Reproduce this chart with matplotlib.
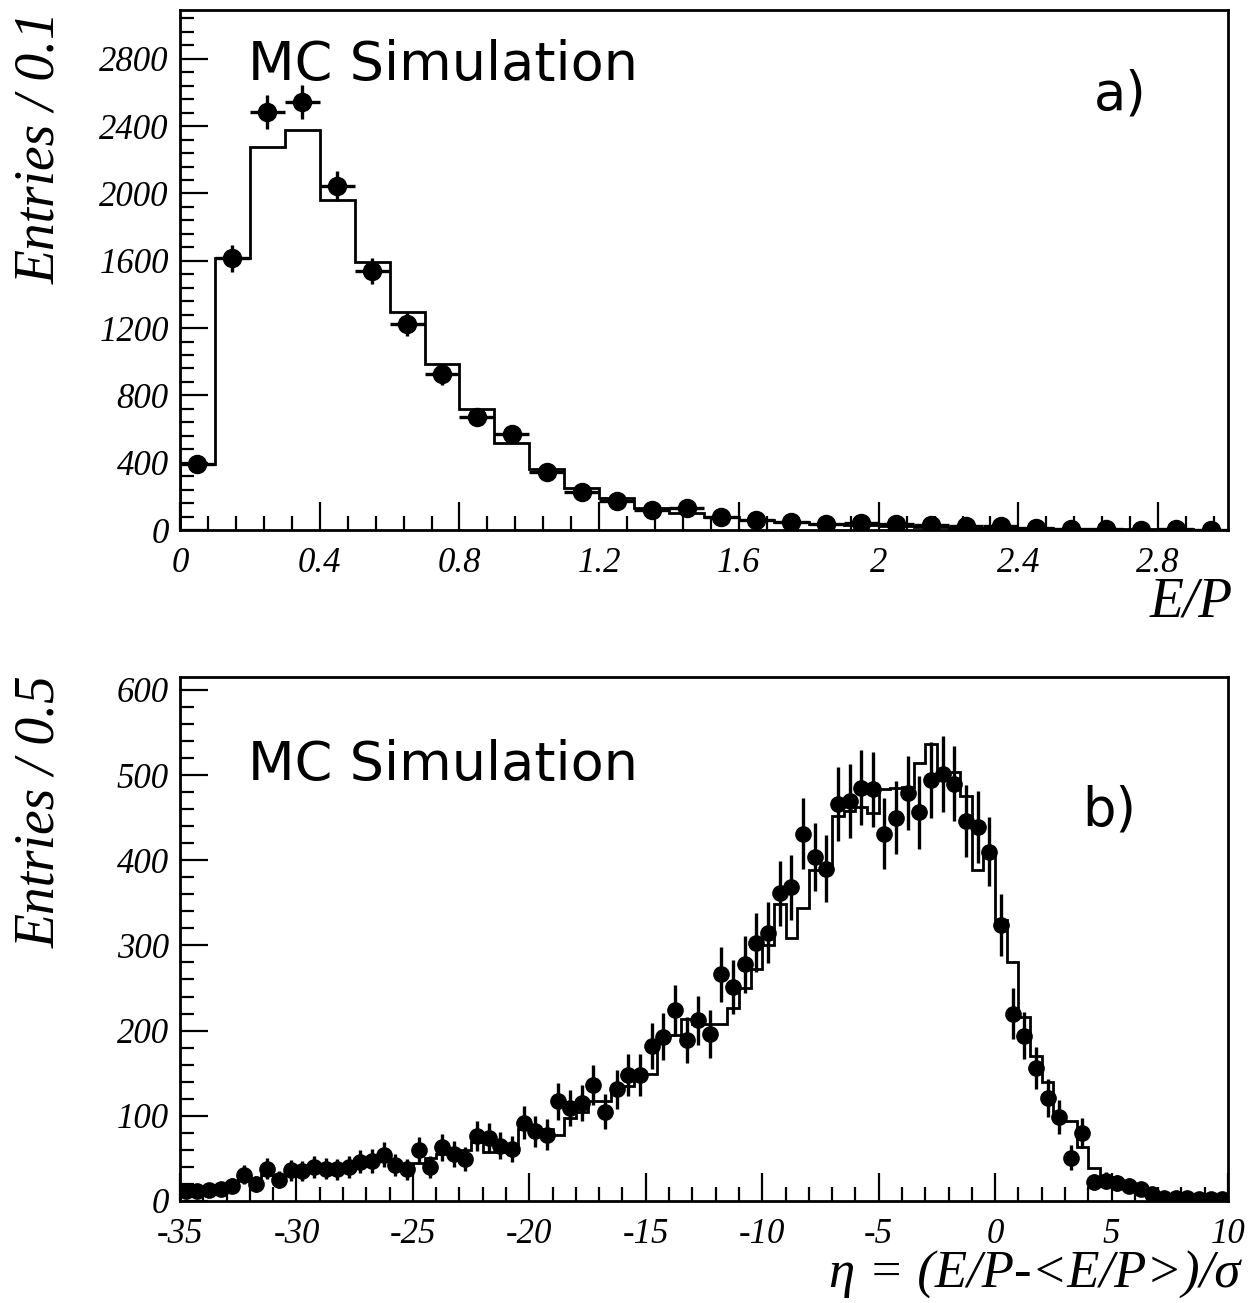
import numpy as np
import matplotlib
matplotlib.use("Agg")
import matplotlib.pyplot as plt

# ---- panel a: E/P, bins of 0.1 from 0 to 3
ep_edges = np.linspace(0.0, 3.0, 31)
ep_data = [395, 1615, 2485, 2545, 2045, 1540, 1225, 925, 670, 570,
           345, 225, 175, 120, 130, 75, 62, 48, 38, 42,
           36, 30, 22, 25, 12, 8, 5, 3, 4, 3]
ep_mc = [395, 1615, 2275, 2375, 1960, 1595, 1295, 985, 720, 520,
         365, 250, 190, 130, 100, 80, 60, 45, 38, 32,
         25, 20, 15, 12, 10, 8, 6, 5, 4, 3]

# ---- panel b: eta, bins of 0.5 from -35 to 10
eta_edges = np.linspace(-35.0, 10.0, 91)
eta_data = [12, 12, 13, 14, 18, 31, 20, 38, 25, 36,
            35, 40, 38, 37, 40, 46, 47, 54, 42, 37,
            60, 40, 63, 55, 49, 76, 74, 65, 61, 92,
            82, 78, 117, 109, 115, 136, 105, 131, 148, 148,
            182, 193, 224, 189, 212, 196, 266, 251, 278, 303,
            315, 361, 368, 431, 404, 390, 466, 470, 485, 483,
            431, 450, 479, 456, 494, 501, 490, 446, 439, 410,
            324, 220, 194, 156, 121, 99, 51, 80, 22, 24,
            21, 18, 14, 8, 4, 3, 3, 2, 2, 2]
eta_mc = [10, 11, 12, 14, 20, 25, 27, 30, 30, 32,
          34, 35, 36, 37, 38, 42, 45, 48, 45, 42,
          44, 50, 55, 58, 60, 69, 58, 57, 57, 84,
          85, 84, 78, 97, 105, 117, 117, 128, 135, 149,
          149, 195, 195, 214, 208, 208, 208, 227, 250, 272,
          300, 349, 309, 344, 388, 390, 452, 458, 462, 455,
          483, 485, 486, 514, 536, 504, 504, 475, 388, 411,
          330, 280, 216, 170, 140, 96, 94, 63, 39, 28,
          24, 20, 14, 9, 5, 4, 3, 3, 2, 2]

plt.rcParams['font.family'] = ['Liberation Serif', 'DejaVu Serif']
plt.rcParams['font.style'] = 'italic'
plt.rcParams['axes.unicode_minus'] = False

fig = plt.figure(figsize=(12.49, 13.03), dpi=100)
ax1 = fig.add_axes([0.1441, 0.5932, 0.8391, 0.3991])
ax2 = fig.add_axes([0.1441, 0.0783, 0.8391, 0.4021])


def draw_panel(ax, edges, data, mc, ms):
    centers = 0.5 * (edges[1:] + edges[:-1])
    half = 0.5 * (edges[1] - edges[0])
    data = np.array(data, dtype=float)
    # error bars ~ 2 sigma statistical
    err = 2.0 * np.sqrt(data)
    ax.stairs(mc, edges, color='black', lw=2.0, zorder=2)
    ax.errorbar(centers, data, yerr=err, xerr=half, fmt='o', color='black',
                ms=ms, elinewidth=2.4, capsize=0, zorder=3)
    for s in ['top', 'right', 'left', 'bottom']:
        ax.spines[s].set_linewidth(2.0)
    ax.tick_params(which='both', direction='in', top=False, right=False,
                   width=1.6, labelsize=25)
    ax.tick_params(which='major', length=20)
    ax.tick_params(which='minor', length=10)
    ax.tick_params(axis='x', pad=12)
    ax.tick_params(axis='y', pad=8)


draw_panel(ax1, ep_edges, ep_data, ep_mc, 13)
ax1.set_xlim(0, 3.0)
ax1.set_ylim(0, 3090)
ax1.set_xticks([0, 0.4, 0.8, 1.2, 1.6, 2.0, 2.4, 2.8])
ax1.set_xticklabels(['0', '0.4', '0.8', '1.2', '1.6', '2', '2.4', '2.8'])
ax1.set_xticks(np.arange(0, 3.01, 0.08), minor=True)
ax1.set_yticks(np.arange(0, 2801, 400))
ax1.set_yticks(np.arange(0, 3090, 80), minor=True)

draw_panel(ax2, eta_edges, eta_data, eta_mc, 11)
ax2.set_xlim(-35, 10)
ax2.set_ylim(0, 615)
ax2.set_xticks(np.arange(-35, 11, 5))
ax2.set_xticks(np.arange(-35, 10.5, 1), minor=True)
ax2.set_yticks(np.arange(0, 601, 100))
ax2.set_yticks(np.arange(0, 615, 20), minor=True)

sans = 'DejaVu Sans'
ax1.text(0.065, 0.865, 'MC Simulation', transform=ax1.transAxes,
         family=sans, style='normal', fontsize=39, ha='left', va='baseline')
ax2.text(0.065, 0.803, 'MC Simulation', transform=ax2.transAxes,
         family=sans, style='normal', fontsize=39, ha='left', va='baseline')
ax1.text(0.897, 0.837, 'a)', transform=ax1.transAxes,
         family=sans, style='normal', fontsize=38, ha='center', va='center')
ax2.text(0.887, 0.746, 'b)', transform=ax2.transAxes,
         family=sans, style='normal', fontsize=38, ha='center', va='center')

fig.text(0.032, 1 - 148 / 1303, 'Entries / 0.1', rotation=90,
         fontsize=40, ha='center', va='center')
fig.text(0.032, 1 - 812 / 1303, 'Entries / 0.5', rotation=90,
         fontsize=40, ha='center', va='center')
fig.text(0.987, 1 - 602 / 1303, 'E/P', fontsize=40, ha='right', va='center')
fig.text(0.993, 1 - 1275 / 1303, 'η = (E/P-<E/P>)/σ', fontsize=38,
         ha='right', va='center')

fig.savefig('out.png', dpi=100)
